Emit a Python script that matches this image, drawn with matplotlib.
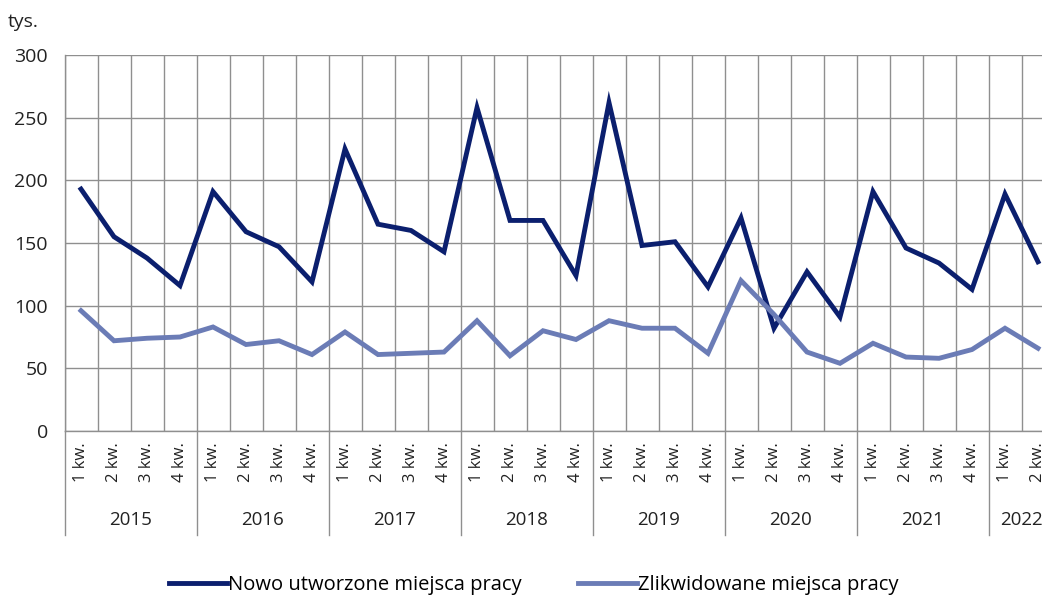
import matplotlib.pyplot as plt
import matplotlib.transforms as mtransforms

plt.rcParams['font.family'] = ['Open Sans', 'DejaVu Sans']

# Quarterly data, thousands of jobs (2015 Q1 - 2022 Q2)
years = ["2015", "2016", "2017", "2018", "2019", "2020", "2021", "2022"]
quarters = ["1 kw.", "2 kw.", "3 kw.", "4 kw."]
quarter_labels = [q for y in years for q in quarters][:30]

new_jobs = [193, 155, 138, 116,
            191, 159, 147, 119,
            225, 165, 160, 143,
            258, 168, 168, 124,
            262, 148, 151, 115,
            170, 82, 127, 91,
            191, 146, 134, 113,
            189, 135]
closed_jobs = [96, 72, 74, 75,
               83, 69, 72, 61,
               79, 61, 62, 63,
               88, 60, 80, 73,
               88, 82, 82, 62,
               120, 93, 63, 54,
               70, 59, 58, 65,
               82, 66]

dark = "#0b1f6e"
light = "#6b7cb6"
grid_col = "#8f8f8f"
txt = "#222222"

fig = plt.figure(figsize=(10.42, 5.96), dpi=100)
W, H = 1042, 596
ax = fig.add_axes([64.5 / W, (H - 431) / H, 990 / W, 376 / H])

x = list(range(len(new_jobs)))
l1, = ax.plot(x, new_jobs, color=dark, lw=3.5, solid_joinstyle="miter", label="Nowo utworzone miejsca pracy")
l2, = ax.plot(x, closed_jobs, color=light, lw=3.5, solid_joinstyle="miter", label="Zlikwidowane miejsca pracy")

ax.set_xlim(-0.5, len(new_jobs) - 0.5)
ax.set_ylim(0, 300)
ax.set_yticks(range(0, 301, 50))
ax.yaxis.grid(True, color=grid_col, lw=1)
ax.set_xticks([i - 0.5 for i in range(len(new_jobs) + 1)], minor=True)
ax.xaxis.grid(True, which="minor", color=grid_col, lw=1)
ax.set_axisbelow(True)

ax.set_xticks(x)
ax.set_xticklabels(quarter_labels, rotation=90, fontsize=12, color=txt)
ax.tick_params(axis="x", which="both", length=0, pad=8)
ax.tick_params(axis="y", length=0, pad=12, labelsize=14, labelcolor=txt)

for s in ["top", "right"]:
    ax.spines[s].set_visible(False)
for s in ["left", "bottom"]:
    ax.spines[s].set_color(grid_col)
    ax.spines[s].set_linewidth(1)

# year separators and labels below the axis
trans = mtransforms.blended_transform_factory(ax.transData, ax.transAxes)
for i, yr in enumerate(years):
    start = 4 * i - 0.5
    n = min(4, len(new_jobs) - 4 * i)
    ax.axvline(start, ymin=-0.277, ymax=0, color=grid_col, lw=1, clip_on=False)
    ax.text(start + n / 2, -0.237, yr, transform=trans, ha="center", va="center",
            fontsize=13.5, color=txt)

fig.text(8 / W, 1 - 22 / H, "tys.", fontsize=14, color=txt, va="center")

fig.legend(handles=[l1, l2], loc="center", bbox_to_anchor=(0.512, 0.018), ncol=2,
           frameon=False, fontsize=14.5, handlelength=2.9, handletextpad=0.05,
           columnspacing=2.8)

fig.savefig("out.png", dpi=100)
